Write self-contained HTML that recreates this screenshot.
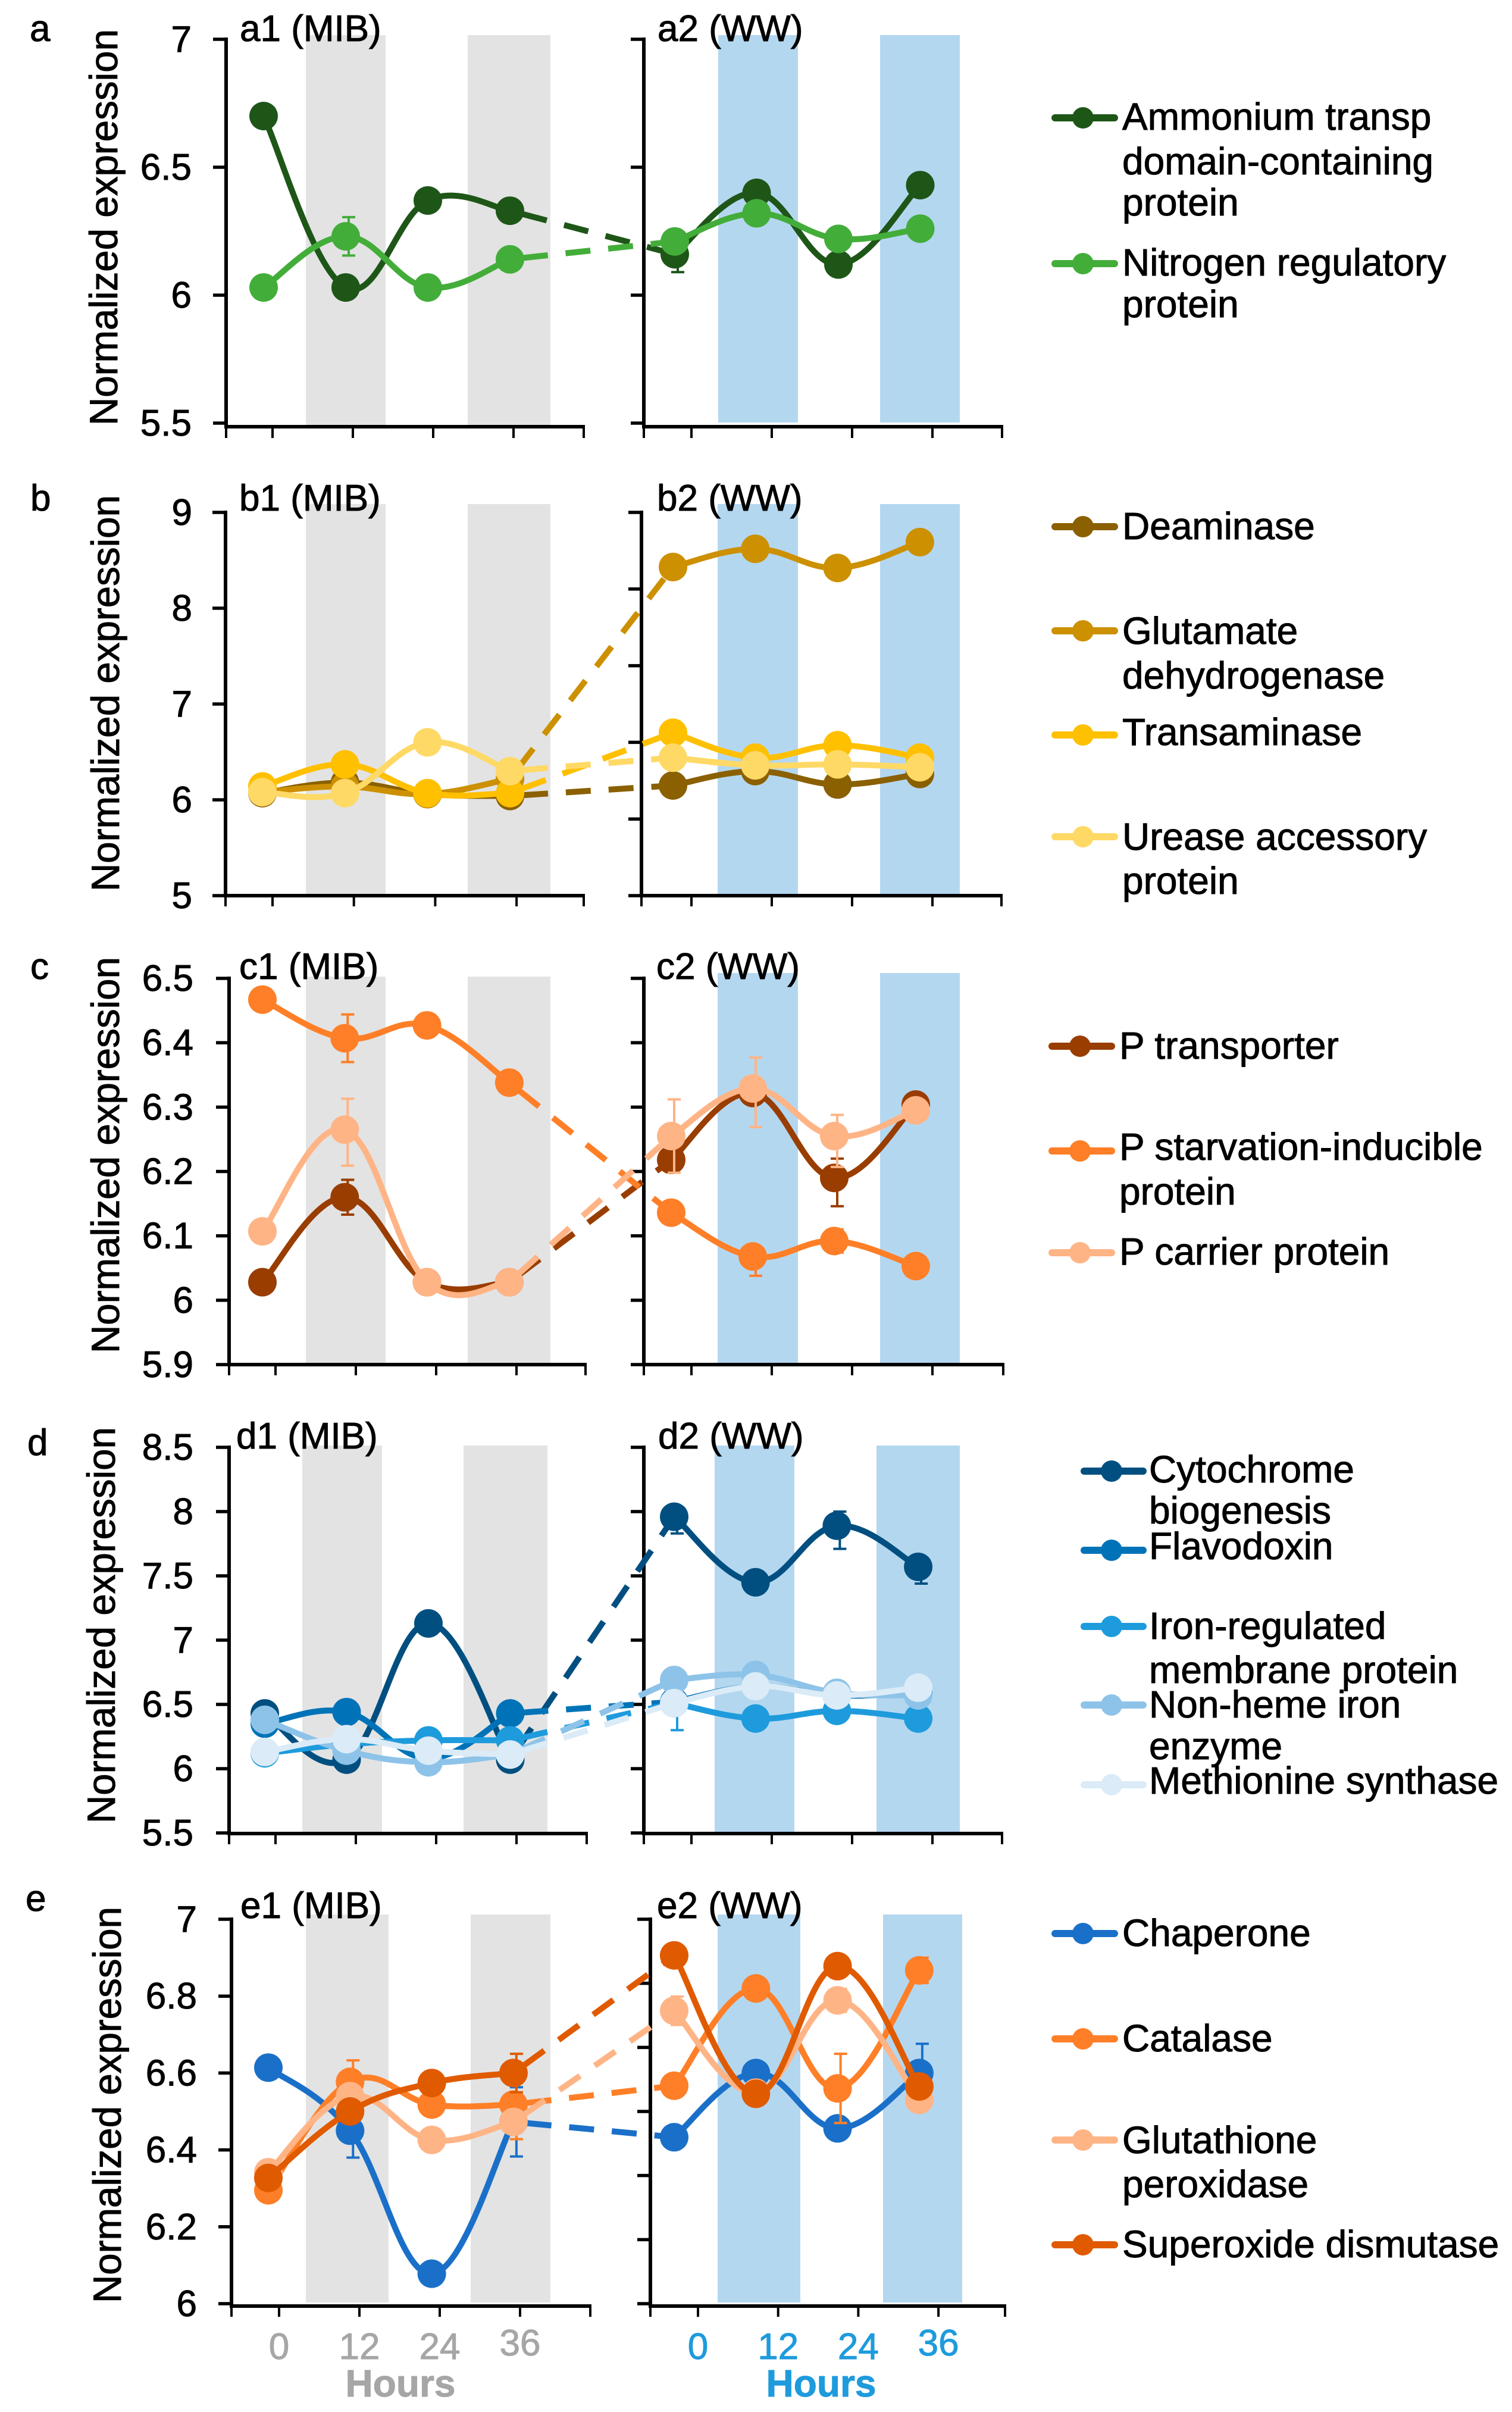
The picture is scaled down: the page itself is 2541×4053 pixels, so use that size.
<!DOCTYPE html>
<html lang="en">
<head>
<meta charset="utf-8">
<title>Normalized expression time courses</title>
<style>
html,body{margin:0;padding:0;background:#fff;width:2541px;height:4053px;overflow:hidden}
svg{display:block;font-family:"Liberation Sans",sans-serif}
</style>
</head>
<body>
<svg id="figure" xmlns="http://www.w3.org/2000/svg" width="2541" height="4053" viewBox="0 0 2541 4053"></svg>
<script>
/* ---------- categories and tick labels ---------- */
const hours = [0, 12, 24, 36];
const aTickLabels = ['5.5', '6', '6.5', '7'];
const bTickLabels = ['5', '6', '7', '8', '9'];
const cTickLabels = ['5.9', '6', '6.1', '6.2', '6.3', '6.4', '6.5'];
const dTickLabels = ['5.5', '6', '6.5', '7', '7.5', '8', '8.5'];
const eTickLabels = ['6', '6.2', '6.4', '6.6', '6.8', '7'];
const noErr = [0, 0, 0, 0];

/* ---------- panel a ---------- */
const a1Ammonium = [6.70, 6.03, 6.37, 6.33];
const a2Ammonium = [6.16, 6.40, 6.12, 6.43];
const a2AmmoniumErr = [0.07, 0, 0, 0];
const a1Nitrogen = [6.03, 6.23, 6.03, 6.14];
const a2Nitrogen = [6.21, 6.32, 6.22, 6.26];
const a1NitrogenErr = [0, 0.075, 0, 0];

/* ---------- panel b ---------- */
const b1Deaminase = [6.07, 6.18, 6.06, 6.04];
const b2Deaminase = [6.15, 6.30, 6.16, 6.27];
const b1Glutamate = [6.08, 6.14, 6.06, 6.22];
const b2Glutamate = [8.43, 8.62, 8.42, 8.69];
const b1Transaminase = [6.14, 6.37, 6.07, 6.07];
const b2Transaminase = [6.70, 6.44, 6.57, 6.44];
const b1Urease = [6.08, 6.07, 6.60, 6.30];
const b2Urease = [6.44, 6.36, 6.37, 6.34];

/* ---------- panel c (error entries: single value or [up, down]) ---------- */
const c1Transporter = [6.028, 6.16, 6.028, 6.028];
const c2Transporter = [6.218, 6.322, 6.19, 6.304];
const c1TransporterErr = [0, 0.027, 0, 0];
const c2TransporterErr = [0, 0, [0.03, 0.044], 0];
const c1Starvation = [6.467, 6.407, 6.427, 6.338];
const c2Starvation = [6.136, 6.068, 6.092, 6.053];
const c1StarvationErr = [0, 0.037, 0, 0];
const c2StarvationErr = [0, [0.01, 0.03], 0.018, 0];
const c1Carrier = [6.107, 6.265, 6.028, 6.028];
const c2Carrier = [6.255, 6.329, 6.255, 6.295];
const c1CarrierErr = [0, [0.048, 0.056], 0, 0];
const c2CarrierErr = [0.057, [0.048, 0.06], [0.033, 0.048], 0];

/* ---------- panel d ---------- */
const d1Cytochrome = [6.43, 6.07, 7.13, 6.07];
const d2Cytochrome = [7.96, 7.45, 7.89, 7.57];
const d2CytochromeErr = [[0.02, 0.13], 0, [0.11, 0.18], [0.02, 0.13]];
const d1Flavodoxin = [6.35, 6.44, 6.08, 6.43];
const d2Flavodoxin = [6.52, 6.64, 6.57, 6.59];
const d1Iron = [6.12, 6.19, 6.22, 6.22];
const d2Iron = [6.51, 6.39, 6.45, 6.39];
const d2IronErr = [[0.02, 0.21], 0, 0, 0];
const d1NonHeme = [6.38, 6.14, 6.05, 6.11];
const d2NonHeme = [6.69, 6.73, 6.59, 6.57];
const d1Methionine = [6.13, 6.23, 6.14, 6.11];
const d2Methionine = [6.51, 6.64, 6.57, 6.63];

/* ---------- panel e ---------- */
const e1Chaperone = [6.614, 6.45, 6.078, 6.473];
const e2Chaperone = [6.433, 6.60, 6.456, 6.60];
const e1ChaperoneErr = [0, 0.07, 0, 0.09];
const e2ChaperoneErr = [0, 0, 0, 0.076];
const e1Catalase = [6.295, 6.577, 6.518, 6.518];
const e2Catalase = [6.567, 6.82, 6.56, 6.867];
const e1CatalaseErr = [0, 0.056, 0, 0.09];
const e2CatalaseErr = [0, 0, 0.09, 0.033];
const e1Glutathione = [6.342, 6.54, 6.426, 6.473];
const e2Glutathione = [6.762, 6.549, 6.789, 6.53];
const e2GlutathioneErr = [0.037, 0, 0.03, 0];
const e1Superoxide = [6.327, 6.50, 6.574, 6.60];
const e2Superoxide = [6.906, 6.546, 6.878, 6.565];
const e1SuperoxideErr = [0, 0, 0, 0.05];

/* ---------- series wiring ---------- */
const aSeries = [
  {key:'ammonium', color:'#1e5618', mib:a1Ammonium, ww:a2Ammonium, mibErr:noErr, wwErr:a2AmmoniumErr},
  {key:'nitrogen', color:'#43ad3a', mib:a1Nitrogen, ww:a2Nitrogen, mibErr:a1NitrogenErr, wwErr:noErr}
];
const bSeries = [
  {key:'deaminase', color:'#8a6000', mib:b1Deaminase, ww:b2Deaminase, mibErr:noErr, wwErr:noErr},
  {key:'glutamate', color:'#cc9000', mib:b1Glutamate, ww:b2Glutamate, mibErr:noErr, wwErr:noErr},
  {key:'transaminase', color:'#ffc000', mib:b1Transaminase, ww:b2Transaminase, mibErr:noErr, wwErr:noErr},
  {key:'urease', color:'#ffd966', mib:b1Urease, ww:b2Urease, mibErr:noErr, wwErr:noErr}
];
const cSeries = [
  {key:'p-transporter', color:'#993d00', mib:c1Transporter, ww:c2Transporter, mibErr:c1TransporterErr, wwErr:c2TransporterErr},
  {key:'p-starvation', color:'#fe7f27', mib:c1Starvation, ww:c2Starvation, mibErr:c1StarvationErr, wwErr:c2StarvationErr},
  {key:'p-carrier', color:'#ffb486', mib:c1Carrier, ww:c2Carrier, mibErr:c1CarrierErr, wwErr:c2CarrierErr}
];
const dSeries = [
  {key:'cytochrome', color:'#004f80', mib:d1Cytochrome, ww:d2Cytochrome, mibErr:noErr, wwErr:d2CytochromeErr},
  {key:'flavodoxin', color:'#0073b8', mib:d1Flavodoxin, ww:d2Flavodoxin, mibErr:noErr, wwErr:noErr},
  {key:'iron-regulated', color:'#1e9bdc', mib:d1Iron, ww:d2Iron, mibErr:noErr, wwErr:d2IronErr},
  {key:'non-heme', color:'#8dc3e8', mib:d1NonHeme, ww:d2NonHeme, mibErr:noErr, wwErr:noErr},
  {key:'methionine', color:'#dbebf7', mib:d1Methionine, ww:d2Methionine, mibErr:noErr, wwErr:noErr}
];
const eSeries = [
  {key:'chaperone', color:'#1a70c8', mib:e1Chaperone, ww:e2Chaperone, mibErr:e1ChaperoneErr, wwErr:e2ChaperoneErr},
  {key:'catalase', color:'#fe7f27', mib:e1Catalase, ww:e2Catalase, mibErr:e1CatalaseErr, wwErr:e2CatalaseErr},
  {key:'glutathione', color:'#ffb486', mib:e1Glutathione, ww:e2Glutathione, mibErr:noErr, wwErr:e2GlutathioneErr},
  {key:'superoxide', color:'#e05a00', mib:e1Superoxide, ww:e2Superoxide, mibErr:e1SuperoxideErr, wwErr:noErr}
];

/* ---------- drawing ---------- */
const NS = 'http://www.w3.org/2000/svg';
const svg = document.getElementById('figure');
const GRAY_BAND = '#e3e3e3', BLUE_BAND = '#b4d7f0', HOURS_GRAY = '#a6a6a6', HOURS_BLUE = '#1e9bdc';
const MARKER_R = 24, LINE_W = 10, ERR_DX = 5, ERR_CAP = 11;

function mk(parent, tag, attrs, text) {
  const n = document.createElementNS(NS, tag);
  for (const k in attrs) n.setAttribute(k, attrs[k]);
  if (text !== undefined) {
    n.textContent = text;
    n.setAttribute('stroke', attrs.fill);
    n.setAttribute('stroke-width', 1);
  }
  parent.appendChild(n);
  return n;
}

function smoothPath(pts) {
  let d = 'M' + pts[0][0] + ' ' + pts[0][1];
  for (let i = 0; i < pts.length - 1; i++) {
    const p0 = pts[Math.max(i - 1, 0)], p1 = pts[i], p2 = pts[i + 1], p3 = pts[Math.min(i + 2, pts.length - 1)];
    const k = 1 / 5.2;
    const c1x = p1[0] + (p2[0] - p0[0]) * k, c1y = p1[1] + (p2[1] - p0[1]) * k;
    const c2x = p2[0] - (p3[0] - p1[0]) * k, c2y = p2[1] - (p3[1] - p1[1]) * k;
    d += ' C' + c1x.toFixed(1) + ' ' + c1y.toFixed(1) + ' ' + c2x.toFixed(1) + ' ' + c2y.toFixed(1) + ' ' + p2[0].toFixed(1) + ' ' + p2[1].toFixed(1);
  }
  return d;
}

function drawAxes(g, sub, yTop, yBot, axisY, tickBot) {
  for (const b of sub.bands) {
    const r = mk(g, 'rect', {x:b[0], y:sub.bandTop, width:b[1]-b[0], height:sub.bandBot-sub.bandTop, fill:sub.bandColor});
    
    
  }
  const yAxis = mk(g, 'line', {x1:sub.axisX, x2:sub.axisX, y1:yTop-3, y2:axisY+3, stroke:'#000', 'stroke-width':6});
  
  
  const xAxis = mk(g, 'line', {x1:sub.axisX-3, x2:sub.xEnd+2, y1:axisY, y2:axisY, stroke:'#000', 'stroke-width':6});
  
  
  const ends = [sub.axisX, sub.xEnd];
  for (const ex of ends) {
    const t = mk(g, 'line', {x1:ex, x2:ex, y1:axisY, y2:tickBot, stroke:'#000', 'stroke-width':4});
    
    
  }
  for (const h of hours) {
    const tx = sub.tick0 + h / 12 * sub.tickStep;
    const t = mk(g, 'line', {x1:tx, x2:tx, y1:axisY, y2:tickBot, stroke:'#000', 'stroke-width':4});
    
    
  }
}

function drawMarks(g, p, sub, s, values, errs, yOf) {
  const xOf = h => sub.m0 + h / 12 * sub.mStep;
  const pts = hours.map((h, i) => [xOf(h), yOf(values[i])]);
  const line = mk(g, 'path', {d:smoothPath(pts), fill:'none', stroke:s.color, 'stroke-width':LINE_W, 'stroke-linecap':'round', 'stroke-linejoin':'round'});
  
  
  hours.forEach((h, i) => {
    if (!errs[i]) return;
    const up = Array.isArray(errs[i]) ? errs[i][0] : errs[i];
    const down = Array.isArray(errs[i]) ? errs[i][1] : errs[i];
    const ex = xOf(h) + ERR_DX, top = yOf(values[i] + up), bot = yOf(values[i] - down);
    const b = mk(g, 'path', {d:'M'+ex+' '+top+'V'+bot+'M'+(ex-ERR_CAP)+' '+top+'H'+(ex+ERR_CAP)+'M'+(ex-ERR_CAP)+' '+bot+'H'+(ex+ERR_CAP), fill:'none', stroke:s.color, 'stroke-width':4});
    
    
  });
  hours.forEach((h, i) => {
    const c = mk(g, 'circle', {cx:xOf(h), cy:yOf(values[i]), r:MARKER_R, fill:s.color});
    
    
  });
}

function drawPanel(p) {
  const g = mk(svg, 'g', {});
  
  
  const vals = p.labels.map(Number);
  const vMin = vals[0], vMax = vals[vals.length - 1];
  const yOf = v => p.yBot - (v - vMin) / (vMax - vMin) * (p.yBot - p.yTop);

  drawAxes(g, p.mibPanel, p.yTop, p.yBot, p.axisY, p.tickBot);
  drawAxes(g, p.wwPanel, p.yTop, p.yBot, p.axisY, p.tickBot);

  p.labels.forEach(lab => {
    const y = yOf(Number(lab));
    const t = mk(g, 'line', {x1:p.mibPanel.axisX-22, x2:p.mibPanel.axisX, y1:y, y2:y, stroke:'#000', 'stroke-width':5.5});
    
    
    const l = mk(g, 'text', {x:p.labelRight, y:y+21, 'text-anchor':'end', 'font-size':62, fill:'#000'}, lab);
    
    
  });
  for (let i = 0; i <= p.wwTicks; i++) {
    const y = p.yBot - i / p.wwTicks * (p.yBot - p.yTop);
    const t = mk(g, 'line', {x1:p.wwPanel.axisX-22, x2:p.wwPanel.axisX, y1:y, y2:y, stroke:'#000', 'stroke-width':5.5});
    
    
  }

  const yt = mk(g, 'text', {transform:'translate('+p.titleX+' '+(p.titleBottom+5)+') rotate(-90)', 'font-size':65.5, textLength:666, lengthAdjust:'spacingAndGlyphs', fill:'#000'}, 'Normalized expression');
  
  

  const letter = mk(g, 'text', {x:p.letterX, y:p.letterY, 'font-size':62, fill:'#000'}, p.id);
  
  

  const xOfMib = h => p.mibPanel.m0 + h / 12 * p.mibPanel.mStep;
  const xOfWw = h => p.wwPanel.m0 + h / 12 * p.wwPanel.mStep;
  for (const s of p.series) {
    const x1 = xOfMib(hours[hours.length-1]), y1 = yOf(s.mib[s.mib.length-1]);
    const x2 = xOfWw(hours[0]), y2 = yOf(s.ww[0]);
    const dash = mk(g, 'line', {x1:x1, y1:y1, x2:x2, y2:y2, stroke:s.color, 'stroke-width':LINE_W, 'stroke-dasharray':'42 30', 'stroke-dashoffset':50});
    
    
    drawMarks(g, p, p.mibPanel, s, s.mib, s.mibErr, yOf);
    drawMarks(g, p, p.wwPanel, s, s.ww, s.wwErr, yOf);
  }

  const t1 = mk(g, 'text', {x:p.mibTitleX, y:p.titleY, 'font-size':62, fill:'#000'}, p.id + '1 (MIB)');
  
  
  const t2 = mk(g, 'text', {x:p.wwTitleX, y:p.titleY, 'font-size':62, fill:'#000'}, p.id + '2 (WW)');
  
  

  if (p.showHours) {
    for (const [sub, col] of [[p.mibPanel, HOURS_GRAY], [p.wwPanel, HOURS_BLUE]]) {
      for (const h of hours) {
        const lbl = mk(g, 'text', {x:sub.tick0 + h / 12 * sub.tickStep, y:h === 36 ? 3958 : 3964, 'text-anchor':'middle', 'font-size':62, fill:col}, String(h));
        
        
      }
      const ht = mk(g, 'text', {x:sub.hoursX, y:4027, 'text-anchor':'middle', 'font-size':64, 'font-weight':'bold', fill:col}, 'Hours');
      
      
    }
  }
}

function legendEntry(key, color, x0, x1, mx, tx, lineY, rows) {
  const g = mk(svg, 'g', {});
  
  
  const l = mk(g, 'line', {x1:x0+6, x2:x1-6, y1:lineY, y2:lineY, stroke:color, 'stroke-width':12, 'stroke-linecap':'round'});
  
  
  const c = mk(g, 'circle', {cx:mx, cy:lineY, r:18, fill:color});
  
  
  for (const [txt, base] of rows) {
    const t = mk(g, 'text', {x:tx, y:base, 'font-size':64, fill:'#000'}, txt);
    
    
  }
}

drawPanel({id:'a', labels:aTickLabels, series:aSeries, wwTicks:3, yTop:66, yBot:711, axisY:717, tickBot:736,
  labelRight:322, titleX:197, titleBottom:710, letterX:50, letterY:69, titleY:69, mibTitleX:403, wwTitleX:1105,
  mibPanel:{name:'a1', axisX:380, xEnd:981, tick0:458, tickStep:135, m0:443, mStep:138, bands:[[514,648],[786,925]], bandTop:59, bandBot:717, bandColor:GRAY_BAND},
  wwPanel:{name:'a2', axisX:1082, xEnd:1684, tick0:1162, tickStep:135, m0:1134, mStep:137.5, bands:[[1207,1341],[1479,1613]], bandTop:59, bandBot:710, bandColor:BLUE_BAND}});

drawPanel({id:'b', labels:bTickLabels, series:bSeries, wwTicks:5, yTop:861, yBot:1505, axisY:1505, tickBot:1523,
  labelRight:323, titleX:200, titleBottom:1493, letterX:51, letterY:858, titleY:858, mibTitleX:402, wwTitleX:1104,
  mibPanel:{name:'b1', axisX:379, xEnd:981, tick0:458, tickStep:136.7, m0:441, mStep:138.7, bands:[[514,648],[786,925]], bandTop:847, bandBot:1505, bandColor:GRAY_BAND},
  wwPanel:{name:'b2', axisX:1078, xEnd:1683, tick0:1162, tickStep:135, m0:1131, mStep:138.3, bands:[[1206,1341],[1479,1613]], bandTop:847, bandBot:1505, bandColor:BLUE_BAND}});

drawPanel({id:'c', labels:cTickLabels, series:cSeries, wwTicks:6, yTop:1644, yBot:2293, axisY:2293, tickBot:2311,
  labelRight:325, titleX:200, titleBottom:2269, letterX:51, letterY:1645, titleY:1645, mibTitleX:402, wwTitleX:1103,
  mibPanel:{name:'c1', axisX:385, xEnd:984, tick0:463, tickStep:135, m0:441, mStep:138.3, bands:[[514,648],[786,925]], bandTop:1641, bandBot:2293, bandColor:GRAY_BAND},
  wwPanel:{name:'c2', axisX:1082, xEnd:1686, tick0:1162, tickStep:135, m0:1128, mStep:137, bands:[[1206,1341],[1479,1613]], bandTop:1635, bandBot:2293, bandColor:BLUE_BAND}});

drawPanel({id:'d', labels:dTickLabels, series:dSeries, wwTicks:6, yTop:2432, yBot:3080, axisY:3081, tickBot:3099,
  labelRight:325, titleX:193, titleBottom:3059, letterX:46, letterY:2445, titleY:2434, mibTitleX:397, wwTitleX:1106,
  mibPanel:{name:'d1', axisX:385, xEnd:986, tick0:463, tickStep:135, m0:445, mStep:137.5, bands:[[508,642],[779,920]], bandTop:2429, bandBot:3081, bandColor:GRAY_BAND},
  wwPanel:{name:'d2', axisX:1082, xEnd:1684, tick0:1162, tickStep:135, m0:1133, mStep:136.7, bands:[[1201,1335],[1473,1613]], bandTop:2429, bandBot:3081, bandColor:BLUE_BAND}});

drawPanel({id:'e', labels:eTickLabels, series:eSeries, wwTicks:6, yTop:3225, yBot:3871, axisY:3875, tickBot:3893, showHours:true,
  labelRight:331, titleX:203, titleBottom:3865, letterX:43, letterY:3211, titleY:3223, mibTitleX:404, wwTitleX:1104,
  mibPanel:{name:'e1', axisX:389, xEnd:992, tick0:469, tickStep:135, m0:451, mStep:137.3, hoursX:673, bands:[[514,653],[791,925]], bandTop:3217, bandBot:3869, bandColor:GRAY_BAND},
  wwPanel:{name:'e2', axisX:1093, xEnd:1689, tick0:1173, tickStep:134.7, m0:1133, mStep:137.3, hoursX:1380, bands:[[1206,1345],[1484,1617]], bandTop:3217, bandBot:3869, bandColor:BLUE_BAND}});

legendEntry('ammonium', '#1e5618', 1767, 1879, 1820, 1886, 198, [['Ammonium transp', 218], ['domain-containing', 293], ['protein', 362]]);
legendEntry('nitrogen', '#43ad3a', 1767, 1879, 1820, 1886, 443, [['Nitrogen regulatory', 463], ['protein', 533]]);
legendEntry('deaminase', '#8a6000', 1767, 1879, 1820, 1886, 885, [['Deaminase', 906]]);
legendEntry('glutamate', '#cc9000', 1767, 1879, 1820, 1886, 1060, [['Glutamate', 1082], ['dehydrogenase', 1157]]);
legendEntry('transaminase', '#ffc000', 1767, 1879, 1820, 1886, 1235, [['Transaminase', 1252]]);
legendEntry('urease', '#ffd966', 1767, 1879, 1820, 1886, 1406, [['Urease accessory', 1428], ['protein', 1502]]);
legendEntry('p-transporter', '#993d00', 1762, 1874, 1815, 1881, 1758, [['P transporter', 1779]]);
legendEntry('p-starvation', '#fe7f27', 1762, 1874, 1815, 1881, 1934, [['P starvation-inducible', 1949], ['protein', 2024]]);
legendEntry('p-carrier', '#ffb486', 1762, 1874, 1815, 1881, 2105, [['P carrier protein', 2125]]);
legendEntry('cytochrome', '#004f80', 1816, 1927, 1868, 1931, 2472, [['Cytochrome', 2491], ['biogenesis', 2560]]);
legendEntry('flavodoxin', '#0073b8', 1816, 1927, 1868, 1931, 2605, [['Flavodoxin', 2620]]);
legendEntry('iron-regulated', '#1e9bdc', 1816, 1927, 1868, 1931, 2733, [['Iron-regulated', 2754], ['membrane protein', 2828]]);
legendEntry('non-heme', '#8dc3e8', 1816, 1927, 1868, 1931, 2865, [['Non-heme iron', 2886], ['enzyme', 2956]]);
legendEntry('methionine', '#dbebf7', 1816, 1927, 1868, 1931, 2999, [['Methionine synthase', 3014]]);
legendEntry('chaperone', '#1a70c8', 1767, 1879, 1820, 1886, 3249, [['Chaperone', 3270]]);
legendEntry('catalase', '#fe7f27', 1767, 1879, 1820, 1886, 3426, [['Catalase', 3447]]);
legendEntry('glutathione', '#ffb486', 1767, 1879, 1820, 1886, 3596, [['Glutathione', 3618], ['peroxidase', 3692]]);
legendEntry('superoxide', '#e05a00', 1767, 1879, 1820, 1886, 3772, [['Superoxide dismutase', 3793]]);
</script>
</body>
</html>
